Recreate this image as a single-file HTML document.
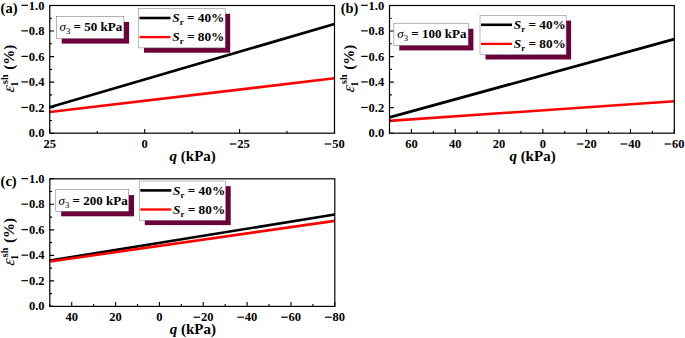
<!DOCTYPE html>
<html><head><meta charset="utf-8"><title>Figure</title>
<style>
html,body{margin:0;padding:0;background:#fff;}
body{width:685px;height:338px;overflow:hidden;}
svg{display:block;}
svg text{font-family:"Liberation Serif",serif;font-weight:bold;fill:#000;}
</style></head>
<body>
<svg width="685" height="338" viewBox="0 0 685 338">
<rect x="0" y="0" width="685" height="338" fill="#fff"/>
<g id="panel-a">
<line x1="49.75" y1="107.2" x2="334.5" y2="24" stroke="#000" stroke-width="2.7"/>
<line x1="49.75" y1="112" x2="334.5" y2="78.3" stroke="#ff0000" stroke-width="2.6"/>
<path d="M49.75 133.2h4.3M49.75 120.43h2.3M49.75 107.66h4.3M49.75 94.89h2.3M49.75 82.12h4.3M49.75 69.35h2.3M49.75 56.58h4.3M49.75 43.81h2.3M49.75 31.04h4.3M49.75 18.27h2.3M49.75 5.5h4.3M49.75 133.2v-4.3M144.67 133.2v-4.3M239.58 133.2v-4.3M334.5 133.2v-4.3M97.21 133.2v-2.3M192.12 133.2v-2.3M287.04 133.2v-2.3" stroke="#000" stroke-width="1.1" fill="none"/>
<rect x="49.75" y="5.5" width="284.75" height="127.7" fill="none" stroke="#000" stroke-width="1.2"/>
<text x="44.45" y="137.2" text-anchor="end" font-size="12.5">0.0</text>
<text x="44.45" y="111.66" text-anchor="end" font-size="12.5">0.2</text>
<line x1="21.43" y1="107.47" x2="28.03" y2="107.47" stroke="#000" stroke-width="1.2"/>
<text x="44.45" y="86.12" text-anchor="end" font-size="12.5">0.4</text>
<line x1="21.43" y1="81.93" x2="28.03" y2="81.93" stroke="#000" stroke-width="1.2"/>
<text x="44.45" y="60.58" text-anchor="end" font-size="12.5">0.6</text>
<line x1="21.43" y1="56.39" x2="28.03" y2="56.39" stroke="#000" stroke-width="1.2"/>
<text x="44.45" y="35.04" text-anchor="end" font-size="12.5">0.8</text>
<line x1="21.43" y1="30.85" x2="28.03" y2="30.85" stroke="#000" stroke-width="1.2"/>
<text x="44.45" y="9.5" text-anchor="end" font-size="12.5">1.0</text>
<line x1="21.43" y1="5.31" x2="28.03" y2="5.31" stroke="#000" stroke-width="1.2"/>
<text x="49.75" y="148.2" text-anchor="middle" font-size="12.5">25</text>
<text x="144.67" y="148.2" text-anchor="middle" font-size="12.5">0</text>
<line x1="229.83" y1="144.01" x2="236.43" y2="144.01" stroke="#000" stroke-width="1.2"/>
<text x="237.23" y="148.2" font-size="12.5">25</text>
<line x1="324.75" y1="144.01" x2="331.35" y2="144.01" stroke="#000" stroke-width="1.2"/>
<text x="332.15" y="148.2" font-size="12.5">50</text>
<text x="192.72" y="161.2" text-anchor="middle" font-size="15"><tspan font-style="italic">q</tspan> (kPa)</text>
<text transform="translate(13.8 92.65) rotate(-90) skewX(-8)" font-size="16.8" style="font-style:italic;font-weight:normal">ε</text>
<text transform="translate(18.1 86.4) rotate(-90)" font-size="9.5">1</text>
<text transform="translate(7.6 83.95) rotate(-90)" font-size="10">sh</text>
<text transform="translate(13.8 69.66) rotate(-90)" font-size="15">(%)</text>
<text x="0.6" y="12.6" font-size="14.5">(a)</text>
<rect x="61.7" y="21.9" width="67.4" height="21.7" fill="#6c003b"/>
<rect x="56.3" y="16.3" width="67.6" height="22.3" fill="#fff" stroke="#666" stroke-width="0.5"/>
<text x="90.9" y="31.3" text-anchor="middle" font-size="13.0"><tspan font-style="italic" font-weight="normal">σ</tspan><tspan dy="3" font-size="8.7" font-weight="normal">3</tspan><tspan dy="-3"> = 50 kPa</tspan></text>
<rect x="144" y="13.8" width="86.2" height="38.9" fill="#6c003b"/>
<rect x="138.5" y="8.6" width="86.7" height="39.3" fill="#fff" stroke="#777" stroke-width="0.5"/>
<line x1="139.5" y1="18" x2="170.5" y2="18" stroke="#000" stroke-width="2.6"/>
<text x="172.3" y="22.4" font-size="13.3"><tspan font-style="italic">S</tspan><tspan dy="3" font-size="8.7">r</tspan><tspan dy="-3"> = 40%</tspan></text>
<line x1="139.5" y1="37.1" x2="170.5" y2="37.1" stroke="#ff0000" stroke-width="2.3"/>
<text x="172.3" y="41.2" font-size="13.3"><tspan font-style="italic">S</tspan><tspan dy="3" font-size="8.7">r</tspan><tspan dy="-3"> = 80%</tspan></text>
</g>
<g id="panel-b">
<line x1="389.5" y1="117.4" x2="674.3" y2="39.1" stroke="#000" stroke-width="2.7"/>
<line x1="389.5" y1="120.9" x2="674.3" y2="101.2" stroke="#ff0000" stroke-width="2.6"/>
<path d="M389.5 133.2h4.3M389.5 120.43h2.3M389.5 107.66h4.3M389.5 94.89h2.3M389.5 82.12h4.3M389.5 69.35h2.3M389.5 56.58h4.3M389.5 43.81h2.3M389.5 31.04h4.3M389.5 18.27h2.3M389.5 5.5h4.3M411.41 133.2v-4.3M455.22 133.2v-4.3M499.04 133.2v-4.3M542.85 133.2v-4.3M586.67 133.2v-4.3M630.48 133.2v-4.3M674.3 133.2v-4.3M389.5 133.2v-2.3M433.32 133.2v-2.3M477.13 133.2v-2.3M520.95 133.2v-2.3M564.76 133.2v-2.3M608.58 133.2v-2.3M652.39 133.2v-2.3" stroke="#000" stroke-width="1.1" fill="none"/>
<rect x="389.5" y="5.5" width="284.8" height="127.7" fill="none" stroke="#000" stroke-width="1.2"/>
<text x="384.2" y="137.2" text-anchor="end" font-size="12.5">0.0</text>
<text x="384.2" y="111.66" text-anchor="end" font-size="12.5">0.2</text>
<line x1="361.17" y1="107.47" x2="367.77" y2="107.47" stroke="#000" stroke-width="1.2"/>
<text x="384.2" y="86.12" text-anchor="end" font-size="12.5">0.4</text>
<line x1="361.17" y1="81.93" x2="367.77" y2="81.93" stroke="#000" stroke-width="1.2"/>
<text x="384.2" y="60.58" text-anchor="end" font-size="12.5">0.6</text>
<line x1="361.17" y1="56.39" x2="367.77" y2="56.39" stroke="#000" stroke-width="1.2"/>
<text x="384.2" y="35.04" text-anchor="end" font-size="12.5">0.8</text>
<line x1="361.17" y1="30.85" x2="367.77" y2="30.85" stroke="#000" stroke-width="1.2"/>
<text x="384.2" y="9.5" text-anchor="end" font-size="12.5">1.0</text>
<line x1="361.17" y1="5.31" x2="367.77" y2="5.31" stroke="#000" stroke-width="1.2"/>
<text x="411.41" y="148.2" text-anchor="middle" font-size="12.5">60</text>
<text x="455.22" y="148.2" text-anchor="middle" font-size="12.5">40</text>
<text x="499.04" y="148.2" text-anchor="middle" font-size="12.5">20</text>
<text x="542.85" y="148.2" text-anchor="middle" font-size="12.5">0</text>
<line x1="576.92" y1="144.01" x2="583.52" y2="144.01" stroke="#000" stroke-width="1.2"/>
<text x="584.32" y="148.2" font-size="12.5">20</text>
<line x1="620.73" y1="144.01" x2="627.33" y2="144.01" stroke="#000" stroke-width="1.2"/>
<text x="628.13" y="148.2" font-size="12.5">40</text>
<line x1="664.55" y1="144.01" x2="671.15" y2="144.01" stroke="#000" stroke-width="1.2"/>
<text x="671.95" y="148.2" font-size="12.5">60</text>
<text x="532.5" y="161.2" text-anchor="middle" font-size="15"><tspan font-style="italic">q</tspan> (kPa)</text>
<text transform="translate(353.55 92.65) rotate(-90) skewX(-8)" font-size="16.8" style="font-style:italic;font-weight:normal">ε</text>
<text transform="translate(357.85 86.4) rotate(-90)" font-size="9.5">1</text>
<text transform="translate(347.35 83.95) rotate(-90)" font-size="10">sh</text>
<text transform="translate(353.55 69.66) rotate(-90)" font-size="15">(%)</text>
<text x="340.7" y="12.6" font-size="14.5">(b)</text>
<rect x="399.3" y="28.8" width="74.1" height="21.6" fill="#6c003b"/>
<rect x="393.9" y="23.2" width="74.3" height="22.2" fill="#fff" stroke="#666" stroke-width="0.5"/>
<text x="431.85" y="38.2" text-anchor="middle" font-size="13.0"><tspan font-style="italic" font-weight="normal">σ</tspan><tspan dy="3" font-size="8.7" font-weight="normal">3</tspan><tspan dy="-3"> = 100 kPa</tspan></text>
<rect x="485.5" y="20.6" width="85.6" height="38.9" fill="#6c003b"/>
<rect x="480" y="15.4" width="86.1" height="39.3" fill="#fff" stroke="#777" stroke-width="0.5"/>
<line x1="481" y1="24.8" x2="512" y2="24.8" stroke="#000" stroke-width="2.6"/>
<text x="513.8" y="29.2" font-size="13.3"><tspan font-style="italic">S</tspan><tspan dy="3" font-size="8.7">r</tspan><tspan dy="-3"> = 40%</tspan></text>
<line x1="481" y1="43.9" x2="512" y2="43.9" stroke="#ff0000" stroke-width="2.3"/>
<text x="513.8" y="48" font-size="13.3"><tspan font-style="italic">S</tspan><tspan dy="3" font-size="8.7">r</tspan><tspan dy="-3"> = 80%</tspan></text>
</g>
<g id="panel-c">
<line x1="49.8" y1="260.6" x2="334.8" y2="214.5" stroke="#000" stroke-width="2.7"/>
<line x1="49.8" y1="261.5" x2="334.8" y2="220.9" stroke="#ff0000" stroke-width="2.6"/>
<path d="M49.8 306.4h4.3M49.8 293.64h2.3M49.8 280.88h4.3M49.8 268.12h2.3M49.8 255.36h4.3M49.8 242.6h2.3M49.8 229.84h4.3M49.8 217.08h2.3M49.8 204.32h4.3M49.8 191.56h2.3M49.8 178.8h4.3M71.72 306.4v-4.3M115.57 306.4v-4.3M159.42 306.4v-4.3M203.26 306.4v-4.3M247.11 306.4v-4.3M290.95 306.4v-4.3M334.8 306.4v-4.3M49.8 306.4v-2.3M93.65 306.4v-2.3M137.49 306.4v-2.3M181.34 306.4v-2.3M225.18 306.4v-2.3M269.03 306.4v-2.3M312.88 306.4v-2.3" stroke="#000" stroke-width="1.1" fill="none"/>
<rect x="49.8" y="178.8" width="285" height="127.6" fill="none" stroke="#000" stroke-width="1.2"/>
<text x="44.5" y="310.4" text-anchor="end" font-size="12.5">0.0</text>
<text x="44.5" y="284.88" text-anchor="end" font-size="12.5">0.2</text>
<line x1="21.48" y1="280.69" x2="28.08" y2="280.69" stroke="#000" stroke-width="1.2"/>
<text x="44.5" y="259.36" text-anchor="end" font-size="12.5">0.4</text>
<line x1="21.48" y1="255.17" x2="28.08" y2="255.17" stroke="#000" stroke-width="1.2"/>
<text x="44.5" y="233.84" text-anchor="end" font-size="12.5">0.6</text>
<line x1="21.48" y1="229.65" x2="28.08" y2="229.65" stroke="#000" stroke-width="1.2"/>
<text x="44.5" y="208.32" text-anchor="end" font-size="12.5">0.8</text>
<line x1="21.48" y1="204.13" x2="28.08" y2="204.13" stroke="#000" stroke-width="1.2"/>
<text x="44.5" y="182.8" text-anchor="end" font-size="12.5">1.0</text>
<line x1="21.48" y1="178.61" x2="28.08" y2="178.61" stroke="#000" stroke-width="1.2"/>
<text x="71.72" y="321.4" text-anchor="middle" font-size="12.5">40</text>
<text x="115.57" y="321.4" text-anchor="middle" font-size="12.5">20</text>
<text x="159.42" y="321.4" text-anchor="middle" font-size="12.5">0</text>
<line x1="193.51" y1="317.21" x2="200.11" y2="317.21" stroke="#000" stroke-width="1.2"/>
<text x="200.91" y="321.4" font-size="12.5">20</text>
<line x1="237.36" y1="317.21" x2="243.96" y2="317.21" stroke="#000" stroke-width="1.2"/>
<text x="244.76" y="321.4" font-size="12.5">40</text>
<line x1="281.2" y1="317.21" x2="287.8" y2="317.21" stroke="#000" stroke-width="1.2"/>
<text x="288.6" y="321.4" font-size="12.5">60</text>
<line x1="325.05" y1="317.21" x2="331.65" y2="317.21" stroke="#000" stroke-width="1.2"/>
<text x="332.45" y="321.4" font-size="12.5">80</text>
<text x="192.9" y="334.4" text-anchor="middle" font-size="15"><tspan font-style="italic">q</tspan> (kPa)</text>
<text transform="translate(13.85 265.9) rotate(-90) skewX(-8)" font-size="16.8" style="font-style:italic;font-weight:normal">ε</text>
<text transform="translate(18.15 259.65) rotate(-90)" font-size="9.5">1</text>
<text transform="translate(7.65 257.2) rotate(-90)" font-size="10">sh</text>
<text transform="translate(13.85 242.91) rotate(-90)" font-size="15">(%)</text>
<text x="0.6" y="185.9" font-size="14.5">(c)</text>
<rect x="61.2" y="195.1" width="72.8" height="21.2" fill="#6c003b"/>
<rect x="55.8" y="189.5" width="73" height="21.8" fill="#fff" stroke="#666" stroke-width="0.5"/>
<text x="93.1" y="204.5" text-anchor="middle" font-size="13.0"><tspan font-style="italic" font-weight="normal">σ</tspan><tspan dy="3" font-size="8.7" font-weight="normal">3</tspan><tspan dy="-3"> = 200 kPa</tspan></text>
<rect x="144.8" y="186.2" width="85.9" height="38.9" fill="#6c003b"/>
<rect x="139.3" y="181" width="86.4" height="39.3" fill="#fff" stroke="#777" stroke-width="0.5"/>
<line x1="140.3" y1="190.4" x2="171.3" y2="190.4" stroke="#000" stroke-width="2.6"/>
<text x="173.1" y="194.8" font-size="13.3"><tspan font-style="italic">S</tspan><tspan dy="3" font-size="8.7">r</tspan><tspan dy="-3"> = 40%</tspan></text>
<line x1="140.3" y1="209.5" x2="171.3" y2="209.5" stroke="#ff0000" stroke-width="2.3"/>
<text x="173.1" y="213.6" font-size="13.3"><tspan font-style="italic">S</tspan><tspan dy="3" font-size="8.7">r</tspan><tspan dy="-3"> = 80%</tspan></text>
</g>
</svg>
</body></html>
